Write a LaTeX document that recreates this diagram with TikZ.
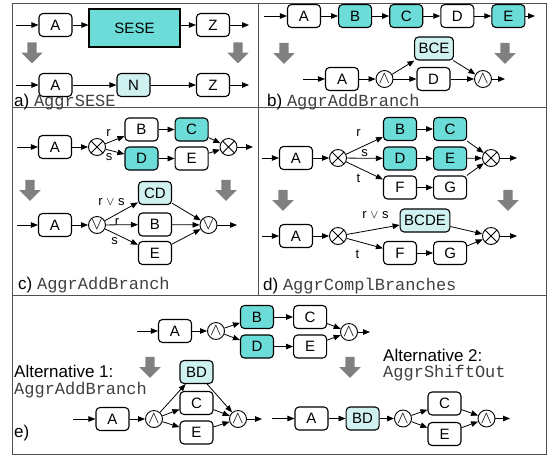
\documentclass[tikz,border=0pt]{standalone}
\usepackage{fontspec}
\setmainfont{Liberation Sans}
\setmonofont{Liberation Mono}
\usetikzlibrary{arrows.meta, positioning, shapes.arrows}
\definecolor{aggteal}{HTML}{6CDCD8}
\definecolor{agglight}{HTML}{CFF2F0}
\definecolor{agggray}{HTML}{808080}
\definecolor{aggframe}{HTML}{505050}

\begin{document}
\begin{tikzpicture}[
    x=1pt, y=-1pt,
    font=\fontsize{15}{18}\selectfont,
    node distance=17pt,
    task/.style={draw, rounded corners=4pt, line width=1.1pt, fill=white,
                 minimum width=33pt, minimum height=23pt, inner sep=4pt},
    sel/.style={task, fill=aggteal},
    agg/.style={task, fill=agglight},
    sese/.style={draw, line width=1.1pt, fill=aggteal,
                 minimum width=91pt, minimum height=38pt},
    gate/.style={draw, circle, line width=0.9pt, fill=white, minimum size=17pt,
                 inner sep=0pt, font=\fontsize{17}{17}\selectfont},
    xorg/.style={gate, path picture={
        \draw[line width=0.9pt] (path picture bounding box.north east) -- (path picture bounding box.south west)
                                (path picture bounding box.north west) -- (path picture bounding box.south east);}},
    arr/.style={-{Triangle[length=7pt, width=5.5pt]}, line width=0.8pt},
    trans/.style={single arrow, draw=none, fill=agggray, shape border rotate=270,
                  minimum height=21pt, inner sep=4.5pt,
                  single arrow head extend=6pt, single arrow head indent=0pt},
    cond/.style={font=\fontsize{13}{13}\selectfont, inner sep=0pt},
    lbl/.style={anchor=base west, inner sep=0pt, font=\fontsize{17}{20}\selectfont},
  ]
    \useasboundingbox (0,0) rectangle (552,459);

    % panel frame
    \draw[aggframe, line width=1pt] (12,3) rectangle (546,454);
    \draw[aggframe, line width=1pt] (12,107.5) -- (546,107.5);
    \draw[aggframe, line width=1pt] (12,295) -- (546,295);
    \draw[aggframe, line width=1pt] (258,3) -- (258,295);

    % a) AggrSESE
    \coordinate (a1in) at (16,25);
    \node[task] (a1A) at (55.5,25) {A};
    \node[sese] (a1S) at (134.5,28) {SESE};
    \node[task] (a1Z) at (213,25) {Z};
    \coordinate (a1out) at (249,25);
    \node[trans] (a1t1) at (32,50.5) {};
    \node[trans] (a1t2) at (238,50.5) {};
    \coordinate (a2in) at (16,85);
    \node[task] (a2A) at (55.5,85) {A};
    \node[agg]  (a2N) at (133.5,85) {N};
    \node[task] (a2Z) at (213,85) {Z};
    \coordinate (a2out) at (249,85);

    \draw[arr] (a1in) -- (a1A);
    \draw[arr] (a1A.east) -- (a1A.east -| a1S.west);
    \draw[arr] (a1Z.west -| a1S.east) -- (a1Z);
    \draw[arr] (a1Z) -- (a1out);
    \draw[arr] (a2in) -- (a2A);
    \draw[arr] (a2A) -- (a2N);
    \draw[arr] (a2N) -- (a2Z);
    \draw[arr] (a2Z) -- (a2out);
    \node[lbl] (la) at (14,106) {a) \texttt{\color{black!75}AggrSESE}};

    % b) AggrAddBranch
    \coordinate (b1in) at (264,16);
    \node[task] (b1A) at (304,16) {A};
    \node[sel, right=of b1A]  (b1B) {B};
    \node[sel, right=of b1B]  (b1C) {C};
    \node[task, right=of b1C] (b1D) {D};
    \node[sel, right=of b1D]  (b1E) {E};
    \coordinate (b1out) at (535,16);
    \node[trans] (b1t1) at (284,51) {};
    \node[trans] (b1t2) at (505,51) {};
    \coordinate (b2in) at (303,79);
    \node[task] (b2A) at (342,79) {A};
    \node[gate] (b2g1) at (384.5,79) {$\wedge$};
    \node[agg]  (b2BCE) at (434,48.5) {BCE};
    \node[task] (b2D) at (433.5,79) {D};
    \node[gate] (b2g2) at (483,79) {$\wedge$};
    \coordinate (b2out) at (505,79);

    \draw[arr] (b1in) -- (b1A);
    \draw[arr] (b1A) -- (b1B);
    \draw[arr] (b1B) -- (b1C);
    \draw[arr] (b1C) -- (b1D);
    \draw[arr] (b1D) -- (b1E);
    \draw[arr] (b1E) -- (b1out);
    \draw[arr] (b2in) -- (b2A);
    \draw[arr] (b2A) -- (b2g1);
    \draw[arr] (b2g1) -- (b2BCE);
    \draw[arr] (b2g1) -- (b2D);
    \draw[arr] (b2BCE) -- (b2g2);
    \draw[arr] (b2D) -- (b2g2);
    \draw[arr] (b2g2) -- (b2out);
    \node[lbl] (lb) at (267,106) {b) \texttt{\color{black!75}AggrAddBranch}};

    % c) AggrAddBranch
    \coordinate (c1in) at (17,147);
    \node[task] (c1A) at (55,147) {A};
    \node[xorg] (c1g1) at (97,147) {};
    \node[task] (c1B) at (141.5,129.5) {B};
    \node[sel, right=16pt of c1B] (c1C) {C};
    \node[sel]  (c1D) at (141.5,158.5) {D};
    \node[task, right=16pt of c1D] (c1E) {E};
    \node[xorg] (c1g2) at (228.5,147) {};
    \coordinate (c1out) at (253,147);
    \node[cond] (c1r) at (108.5,132.5) {r};
    \node[cond] (c1s) at (109,157) {s};
    \node[trans] (c1t1) at (30,188) {};
    \node[trans] (c1t2) at (226,188) {};
    \coordinate (c2in) at (17,225);
    \node[task] (c2A) at (55,225) {A};
    \node[gate] (c2g1) at (97,225) {$\vee$};
    \node[agg]  (c2CD) at (155,193) {CD};
    \node[task] (c2B) at (155,224.5) {B};
    \node[task] (c2E) at (155,253) {E};
    \node[gate] (c2g2) at (208.5,225) {$\vee$};
    \coordinate (c2out) at (237,225);
    \node[cond] (c2rs) at (111.5,202) {r $\vee$ s};
    \node[cond] (c2r) at (117,221.5) {r};
    \node[cond] (c2s) at (114.5,241.5) {s};

    \draw[arr] (c1in) -- (c1A);
    \draw[arr] (c1A) -- (c1g1);
    \draw[arr] (c1g1) -- (c1B);
    \draw[arr] (c1g1) -- (c1D);
    \draw[arr] (c1B) -- (c1C);
    \draw[arr] (c1D) -- (c1E);
    \draw[arr] (c1C) -- (c1g2);
    \draw[arr] (c1E) -- (c1g2);
    \draw[arr] (c1g2) -- (c1out);
    \draw[arr] (c2in) -- (c2A);
    \draw[arr] (c2A) -- (c2g1);
    \draw[arr] (c2g1) -- (c2CD);
    \draw[arr] (c2g1) -- (c2B);
    \draw[arr] (c2g1) -- (c2E);
    \draw[arr] (c2CD) -- (c2g2);
    \draw[arr] (c2B) -- (c2g2);
    \draw[arr] (c2E) -- (c2g2);
    \draw[arr] (c2g2) -- (c2out);
    \node[lbl] (lc) at (18,289) {c) \texttt{\color{black!75}AggrAddBranch}};

    % d) AggrComplBranches
    \coordinate (d1in) at (262,158);
    \node[task] (d1A) at (296,158) {A};
    \node[xorg] (d1g1) at (338,158) {};
    \node[sel]  (d1B) at (400,129) {B};
    \node[sel, right=16pt of d1B] (d1C) {C};
    \node[sel]  (d1D) at (400,158.5) {D};
    \node[sel, right=16pt of d1D] (d1E) {E};
    \node[task] (d1F) at (400,187.5) {F};
    \node[task, right=16pt of d1F] (d1G) {G};
    \node[xorg] (d1g2) at (491,158) {};
    \coordinate (d1out) at (517,158);
    \node[cond] (d1r) at (358.5,133) {r};
    \node[cond] (d1s) at (364.5,153) {s};
    \node[cond] (d1t) at (358.5,178) {t};
    \node[trans] (d1t1) at (283,198) {};
    \node[trans] (d1t2) at (508,198) {};
    \coordinate (d2in) at (262,236);
    \node[task] (d2A) at (296,236) {A};
    \node[xorg] (d2g1) at (338,236) {};
    \node[agg]  (d2BCDE) at (425,220.5) {BCDE};
    \node[task] (d2F) at (400,253) {F};
    \node[task, right=16pt of d2F] (d2G) {G};
    \node[xorg] (d2g2) at (491,236) {};
    \coordinate (d2out) at (517,236);
    \node[cond] (d2rs) at (375.5,215.5) {r $\vee$ s};
    \node[cond] (d2t) at (357.5,254) {t};

    \draw[arr] (d1in) -- (d1A);
    \draw[arr] (d1A) -- (d1g1);
    \draw[arr] (d1g1) -- (d1B);
    \draw[arr] (d1g1) -- (d1D);
    \draw[arr] (d1g1) -- (d1F);
    \draw[arr] (d1B) -- (d1C);
    \draw[arr] (d1D) -- (d1E);
    \draw[arr] (d1F) -- (d1G);
    \draw[arr] (d1C) -- (d1g2);
    \draw[arr] (d1E) -- (d1g2);
    \draw[arr] (d1G) -- (d1g2);
    \draw[arr] (d1g2) -- (d1out);
    \draw[arr] (d2in) -- (d2A);
    \draw[arr] (d2A) -- (d2g1);
    \draw[arr] (d2g1) -- (d2BCDE);
    \draw[arr] (d2g1) -- (d2F);
    \draw[arr] (d2F) -- (d2G);
    \draw[arr] (d2BCDE) -- (d2g2);
    \draw[arr] (d2G) -- (d2g2);
    \draw[arr] (d2g2) -- (d2out);
    \node[lbl] (ld) at (263,290) {d) \texttt{\color{black!75}AggrComplBranches}};

    % e) two alternatives
    \coordinate (e1in) at (137,331);
    \node[task] (e1A) at (175,331) {A};
    \node[gate] (e1g1) at (216,331) {$\wedge$};
    \node[sel]  (e1B) at (257,317) {B};
    \node[task, right=19pt of e1B] (e1C) {C};
    \node[sel]  (e1D) at (257,346.5) {D};
    \node[task, right=19pt of e1D] (e1E) {E};
    \node[gate] (e1g2) at (349,332) {$\wedge$};
    \coordinate (e1out) at (370,332);
    \node[trans] (e1t1) at (150,365) {};
    \node[trans] (e1t2) at (350,365) {};

    \draw[arr] (e1in) -- (e1A);
    \draw[arr] (e1A) -- (e1g1);
    \draw[arr] (e1g1) -- (e1B);
    \draw[arr] (e1g1) -- (e1D);
    \draw[arr] (e1B) -- (e1C);
    \draw[arr] (e1D) -- (e1E);
    \draw[arr] (e1C) -- (e1g2);
    \draw[arr] (e1E) -- (e1g2);
    \draw[arr] (e1g2) -- (e1out);

    % Alternative 1
    \node[lbl] (alt1) at (14,377) {Alternative 1:};
    \node[lbl] (alt1n) at (14,394) {\texttt{\color{black!75}AggrAddBranch}};
    \coordinate (e2in) at (73,419);
    \node[task] (e2A) at (112.5,419) {A};
    \node[gate] (e2g1) at (154,419) {$\wedge$};
    \node[agg]  (e2BD) at (196.5,372) {BD};
    \node[task] (e2C) at (196.5,403) {C};
    \node[task] (e2E) at (196.5,432.5) {E};
    \node[gate] (e2g2) at (238,419) {$\wedge$};
    \coordinate (e2out) at (262,419);

    \draw[arr] (e2in) -- (e2A);
    \draw[arr] (e2A) -- (e2g1);
    \draw[arr] (e2g1) -- (e2BD);
    \draw[arr] (e2g1) -- (e2C);
    \draw[arr] (e2g1) -- (e2E);
    \draw[arr] (e2BD) -- (e2g2);
    \draw[arr] (e2C) -- (e2g2);
    \draw[arr] (e2E) -- (e2g2);
    \draw[arr] (e2g2) -- (e2out);

    % Alternative 2
    \node[lbl] (alt2) at (383,361) {Alternative 2:};
    \node[lbl] (alt2n) at (383,377) {\texttt{\color{black!75}AggrShiftOut}};
    \coordinate (e3in) at (272,418.5);
    \node[task] (e3A) at (311.5,418.5) {A};
    \node[agg, right=of e3A] (e3BD) {BD};
    \node[gate] (e3g1) at (403,418.5) {$\wedge$};
    \node[task] (e3C) at (444.5,403.5) {C};
    \node[task] (e3E) at (444.5,434) {E};
    \node[gate] (e3g2) at (486.5,418.5) {$\wedge$};
    \coordinate (e3out) at (510,418.5);

    \draw[arr] (e3in) -- (e3A);
    \draw[arr] (e3A) -- (e3BD);
    \draw[arr] (e3BD) -- (e3g1);
    \draw[arr] (e3g1) -- (e3C);
    \draw[arr] (e3g1) -- (e3E);
    \draw[arr] (e3C) -- (e3g2);
    \draw[arr] (e3E) -- (e3g2);
    \draw[arr] (e3g2) -- (e3out);

    \node[lbl] (le) at (14,437) {e)};
\end{tikzpicture}
\end{document}
